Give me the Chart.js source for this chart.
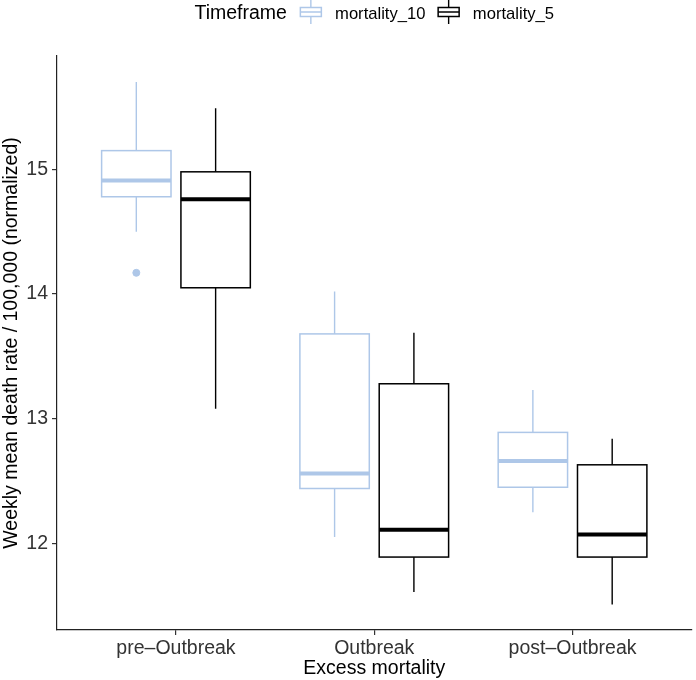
<!DOCTYPE html>
<html lang="en">
<head>
  <meta charset="UTF-8" />
  <title>Excess mortality</title>
  <script src="https://cdn.jsdelivr.net/npm/chart.js"></script>
  <style>
    html, body { margin: 0; padding: 0; background: #fff; }
    #wrap { width: 696px; height: 680px; }
  </style>
</head>
<body>
  <div id="wrap"><canvas id="boxChart" width="696" height="680"></canvas></div>

  <script>
    const categories = ['pre\u2013Outbreak', 'Outbreak', 'post\u2013Outbreak'];
    const seriesNames = ['mortality_10', 'mortality_5'];
    // [lower whisker, q1, median, q3, upper whisker] for each category
    const mortality10 = [
      [14.50, 14.78, 14.91, 15.15, 15.70],
      [12.05, 12.44, 12.56, 13.68, 14.02],
      [12.25, 12.45, 12.66, 12.89, 13.23]
    ];
    const mortality5 = [
      [13.08, 14.05, 14.76, 14.98, 15.49],
      [11.61, 11.89, 12.11, 13.28, 13.69],
      [11.51, 11.89, 12.07, 12.63, 12.84]
    ];
    const outliers10 = [[14.17], [], []];
    const outliers5 = [[], [], []];
    const yTicks = [12, 13, 14, 15];

    const colors = ['#aec7e8', '#000000'];
    const dodge = [-0.2, 0.2];
    const boxWidth = 0.35;
    const font = '"Liberation Sans", Arial, sans-serif';
    const fontSize = 19.5;
    const legendSize = 16.6;

    function outlierPoints(list, k) {
      const pts = [];
      list.forEach((vals, i) => vals.forEach(v => pts.push({ x: i + 1 + dodge[k], y: v })));
      return pts;
    }

    const boxPlugin = {
      id: 'boxes',
      beforeDatasetsDraw(chart) {
        const { ctx, scales: { x, y } } = chart;
        const half = (x.getPixelForValue(boxWidth) - x.getPixelForValue(0)) / 2;
        [mortality10, mortality5].forEach((series, k) => {
          series.forEach((v, i) => {
            const cx = x.getPixelForValue(i + 1 + dodge[k]);
            const [lo, q1, med, q3, hi] = v.map(val => y.getPixelForValue(val));
            ctx.save();
            ctx.strokeStyle = colors[k];
            // whiskers
            ctx.lineWidth = 1.4;
            ctx.beginPath();
            ctx.moveTo(cx, hi); ctx.lineTo(cx, q3);
            ctx.moveTo(cx, q1); ctx.lineTo(cx, lo);
            ctx.stroke();
            // box
            ctx.fillStyle = '#fff';
            ctx.fillRect(cx - half, q3, half * 2, q1 - q3);
            ctx.lineWidth = 1.5;
            ctx.strokeRect(cx - half, q3, half * 2, q1 - q3);
            // median
            ctx.lineWidth = 4;
            ctx.beginPath();
            ctx.moveTo(cx - half, med); ctx.lineTo(cx + half, med);
            ctx.stroke();
            ctx.restore();
          });
        });
      },
      afterDraw(chart) {
        const { ctx, chartArea } = chart;
        ctx.save();
        ctx.textBaseline = 'alphabetic';
        ctx.fillStyle = '#000';
        const title = 'Timeframe';
        const keyW = 21;
        const gapTitle = 13.4, gapKey = 13.7, gapItem = 12.7;
        ctx.font = fontSize + 'px ' + font;
        const wTitle = ctx.measureText(title).width;
        ctx.font = legendSize + 'px ' + font;
        const wLabels = seriesNames.map(n => ctx.measureText(n).width);
        const total = wTitle + gapTitle + 2 * (keyW + gapKey) + wLabels[0] + gapItem + wLabels[1];
        let xPos = (chartArea.left + chartArea.right) / 2 - total / 2;
        const base = 19;
        ctx.font = fontSize + 'px ' + font;
        ctx.fillText(title, xPos, base);
        xPos += wTitle + gapTitle;
        ctx.font = legendSize + 'px ' + font;
        seriesNames.forEach((name, k) => {
          const cx = xPos + keyW / 2;
          ctx.strokeStyle = colors[k];
          ctx.lineWidth = 1.4;
          ctx.beginPath();
          ctx.moveTo(cx, 0); ctx.lineTo(cx, 24);
          ctx.stroke();
          ctx.fillStyle = '#fff';
          ctx.fillRect(xPos, 7.5, keyW, 9);
          ctx.lineWidth = 1.5;
          ctx.strokeRect(xPos, 7.5, keyW, 9);
          ctx.beginPath();
          ctx.moveTo(xPos, 12); ctx.lineTo(xPos + keyW, 12);
          ctx.stroke();
          xPos += keyW + gapKey;
          ctx.fillStyle = '#000';
          ctx.fillText(name, xPos, base);
          xPos += wLabels[k] + gapItem;
        });
        ctx.restore();
      }
    };

    new Chart(document.getElementById('boxChart'), {
      type: 'scatter',
      data: {
        datasets: [
          { label: seriesNames[0], data: outlierPoints(outliers10, 0), backgroundColor: colors[0], borderColor: colors[0], pointRadius: 3.5, pointHoverRadius: 3.5 },
          { label: seriesNames[1], data: outlierPoints(outliers5, 1), backgroundColor: colors[1], borderColor: colors[1], pointRadius: 3.5, pointHoverRadius: 3.5 }
        ]
      },
      options: {
        responsive: false,
        animation: false,
        devicePixelRatio: 1,
        layout: { padding: { top: 56, right: 0, left: 0, bottom: 0 } },
        plugins: { legend: { display: false }, tooltip: { enabled: false } },
        scales: {
          x: {
            type: 'linear',
            min: 0.4,
            max: 3.6,
            afterBuildTicks: s => { s.ticks = categories.map((c, i) => ({ value: i + 1 })); },
            afterFit: s => { s.height = 50; },
            grid: { drawOnChartArea: false, drawTicks: true, tickLength: 5, color: '#333', lineWidth: 1.2 },
            border: { display: true, color: '#222', width: 1.2 },
            ticks: {
              callback: v => categories[v - 1],
              color: '#333',
              font: { family: font, size: fontSize },
              padding: 2,
              maxRotation: 0
            },
            title: {
              display: true,
              text: 'Excess mortality',
              color: '#000',
              font: { family: font, size: fontSize },
              padding: { top: 0, bottom: 0 }
            }
          },
          y: {
            min: 11.305,
            max: 15.909,
            afterBuildTicks: s => { s.ticks = yTicks.map(v => ({ value: v })); },
            afterFit: s => { s.width = 57; },
            grid: { drawOnChartArea: false, drawTicks: true, tickLength: 5, color: '#333', lineWidth: 1.2 },
            border: { display: true, color: '#222', width: 1.2 },
            ticks: {
              color: '#333',
              font: { family: font, size: fontSize },
              padding: 4
            },
            title: {
              display: true,
              text: 'Weekly mean death rate / 100,000 (normalized)',
              color: '#000',
              font: { family: font, size: fontSize },
              padding: { top: 0, bottom: 0 }
            }
          }
        }
      },
      plugins: [boxPlugin]
    });
  </script>
</body>
</html>
